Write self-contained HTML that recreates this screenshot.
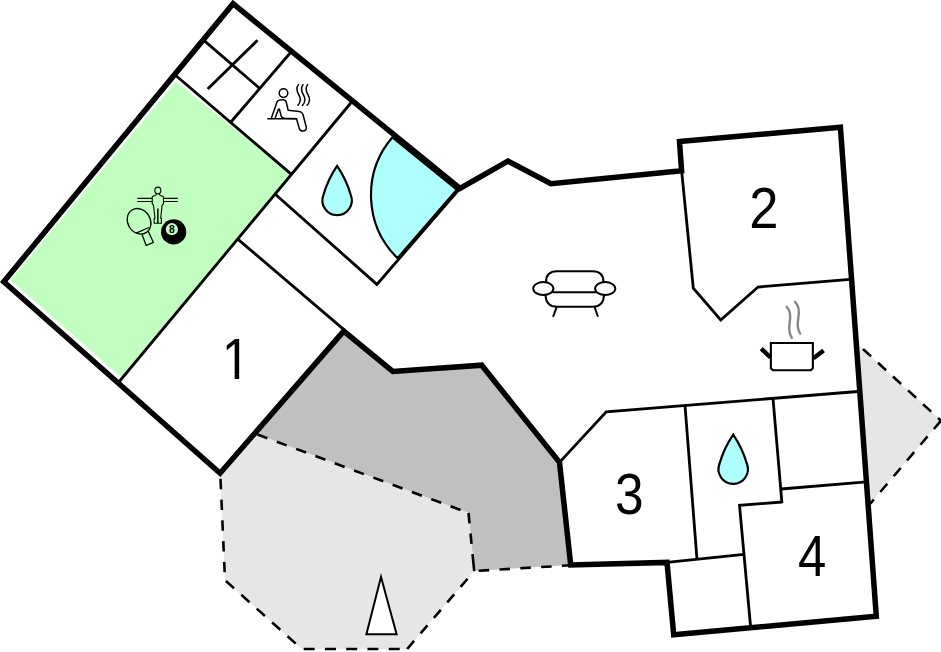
<!DOCTYPE html>
<html>
<head>
<meta charset="utf-8">
<title>Floor plan</title>
<style>
html,body{margin:0;padding:0;background:#fff;}
body{width:941px;height:652px;overflow:hidden;}
svg{display:block;}
text{font-family:"Liberation Sans",Arial,Helvetica,sans-serif;fill:#000;}
.thick{fill:none;stroke:#000;stroke-width:5.5;stroke-linejoin:miter;stroke-miterlimit:10;}
.thin{fill:none;stroke:#000;stroke-width:2.8;stroke-linejoin:miter;stroke-linecap:butt;}
.dash{fill:none;stroke:#000;stroke-width:2.6;}
</style>
</head>
<body>
<svg width="941" height="652" viewBox="0 0 941 652">
<rect width="941" height="652" fill="#fff"/>

<!-- room fills -->
<polygon points="10.5,280.1 176.1,81.6 290.6,174.3 120.8,377.1" fill="#c0ffc0"/>
<polygon points="257.5,434.5 343.7,331.1 392.8,371.4 481.7,365.2 559.5,462.4 570.7,564.9 474.2,571 468.5,513" fill="#c0c0c0"/>
<polygon points="220.1,473.2 257.5,434.5 468.5,513 474.2,571 407.2,649 301.7,649 225,580.2" fill="#e6e6e6"/>
<polygon points="857.5,344 941,420.7 868.5,505" fill="#e6e6e6"/>
<path d="M456.79,189.66 L392.45,137.28 A88.4,88.4 0 0 0 397.52,258.13 Z" fill="#b0ffff" stroke="#000" stroke-width="2.2"/>

<!-- dashed outlines (terrace / covered areas) -->
<g class="dash">
<line x1="257.5" y1="434.5" x2="468.5" y2="513.0" stroke-dasharray="10.6 10"/>
<line x1="468.5" y1="513.0" x2="474.2" y2="571.0" stroke-dasharray="10.4 10.2 10.4 10.2 17 100"/>
<line x1="474.2" y1="571.0" x2="570.7" y2="565.3" stroke-dasharray="10.5 10.35" stroke-dashoffset="16.35"/>
<line x1="220.5" y1="478.8" x2="225" y2="580.2" stroke-dasharray="10.4 10.4"/>
<line x1="225" y1="580.2" x2="301.7" y2="649" stroke-dasharray="11 9.7" stroke-dashoffset="19.5"/>
<line x1="301.7" y1="649" x2="407.2" y2="649" stroke-dasharray="11 10.25" stroke-dashoffset="19.25"/>
<line x1="407.2" y1="649" x2="474.2" y2="571.0" stroke-dasharray="10.6 9.9"/>
<line x1="859" y1="345.3" x2="941" y2="420.7" stroke-dasharray="11 9.4" stroke-dashoffset="15"/>
<line x1="941" y1="420.7" x2="870.3" y2="503.7" stroke-dasharray="10.9 9.8"/>
</g>

<!-- thin interior walls -->
<g class="thin">
<line x1="175.5" y1="75.2" x2="291.2" y2="174.15"/>
<line x1="352" y1="101.5" x2="118.5" y2="382.5"/>
<line x1="291.5" y1="51.5" x2="230.5" y2="122.5"/>
<line x1="203" y1="39.6" x2="259.8" y2="88.5"/>
<line x1="257.5" y1="40.3" x2="207.7" y2="89"/>
<polyline points="275,194 376.9,284.4 460,188.4"/>
<line x1="237.8" y1="239.1" x2="344.5" y2="330.1"/>
<polyline points="681.6,170.7 693.3,288.2 720.75,320 758,287 850,279.3"/>
<polyline points="559.5,462.4 606.25,411.75 858,391.5"/>
<line x1="685" y1="405.4" x2="697" y2="559.5"/>
<line x1="667.0" y1="562.4" x2="744" y2="554.4"/>
<polyline points="750.7,628 739.5,505.3 781.85,502"/>
<line x1="773" y1="398.5" x2="781.95" y2="503.2"/>
<line x1="781" y1="489" x2="866.5" y2="481.8"/>
</g>

<!-- thick outer walls -->
<polygon class="thick" points="220.1,473.2 3.8,281.7 233.05,3.65 460,188.4 507.9,161.1 550.9,183.8 681.6,170.7 679.5,141.4 840.4,127.3 876.3,616.2 673.7,634.7 667,562.4 570.7,564.9 559.5,462.4 481.7,365.2 392.8,371.4 343.7,331.1"/>

<!-- drops -->
<g fill="#b0ffff" stroke="#000" stroke-width="2.2" stroke-linejoin="miter">
<path d="M337.1,165.9 Q346.4,179.6 350.7,194.8 A14.7,14.7 0 1 1 323.5,194.8 Q327.8,179.6 337.1,165.9 Z"/>
<path d="M733.2,434.6 Q742.5,448.3 746.8,463.5 A14.7,14.7 0 1 1 719.6,463.5 Q723.9,448.3 733.2,434.6 Z"/>
</g>

<!-- sofa -->
<g fill="none" stroke="#000" stroke-width="2" stroke-linecap="round">
<path d="M546,282.5 V282 Q546,271.2 557,271.2 H592.5 Q603.5,271.2 603.5,282 V282.5"/>
<ellipse cx="543.3" cy="288.6" rx="10.1" ry="6.5" fill="#fff"/>
<ellipse cx="605.2" cy="288.6" rx="10.1" ry="6.5" fill="#fff"/>
<path d="M553,292.2 H595.5"/>
<path d="M545.5,295.3 Q546,306.8 557,306.8 H592.5 Q603.5,306.8 604,295.3"/>
<path d="M556.5,307.7 L553.3,316.2 M594.8,307.7 L597.7,316"/>
</g>

<!-- sauna -->
<g fill="none" stroke="#000" stroke-width="1.5" stroke-linecap="round" stroke-linejoin="round">
<circle cx="283.5" cy="93.1" r="4.3"/>
<path d="M271.6,117.6 L277.2,101.5 Q278.5,99.6 283.5,99.7 Q286,100 286.5,103 L288.1,110.2 L299.4,111.5 Q302.2,112 303,114.5 L306.3,127.2 Q306.5,131 302.8,131.1 Q300,131 299.3,128.5 L296.5,118.8 L284,118.3 Q281.5,117.8 281,115.5 L279.5,109.5 Q278.9,108.6 278.3,109.5 L275.2,117.7"/>
<path d="M267.8,118.8 H296.5"/>
<path d="M298.4,84.6 C295.9,88 296.4,91 298.9,95 C301.4,99 300.9,102 297.9,105.3"/>
<path d="M303,84.6 C300.5,88 301,91 303.5,95 C306,99 305.5,102 302.5,105.3"/>
<path d="M307.6,84.6 C305.1,88 305.6,91 308.1,95 C310.6,99 310.1,102 307.1,105.3"/>
</g>

<!-- games -->
<g fill="none" stroke="#000" stroke-width="1.3" stroke-linejoin="round">
<ellipse cx="139.06" cy="221.3" rx="11.25" ry="13.3" transform="rotate(-32 139.06 221.3)"/>
<path d="M142,234.4 L146.2,245.5 L153.4,242.4 L147.9,230.6"/>
<path d="M136.16,233.04 L148.93,227.5"/>
</g>
<g fill="none" stroke="#000" stroke-width="1.1" stroke-linejoin="round">
<ellipse cx="157.86" cy="190.5" rx="3" ry="3.35"/>
<path d="M156.2,193.5 L156.2,194.6 Q155.8,195.6 152.7,196.4 Q152.2,196.6 152.2,197.2 L152.2,203.6 L153.5,205.4 L155,218.2 L154.2,218.2 L154.2,223.3 L161.4,223.3 L161.4,218.2 L160.7,218.2 L162.1,205.4 L163.5,203.6 L163.5,197.2 Q163.5,196.6 163,196.4 Q159.9,195.6 159.5,194.6 L159.5,193.5"/>
<path d="M157.86,208.6 V223" stroke-width="1.5"/>
<path d="M137.3,198.33 H152.2 M137.3,201.5 H152.2 M163.5,198.33 H177.9 M163.5,201.5 H177.9"/>
</g>
<circle cx="173.65" cy="231.95" r="12.6" fill="#000"/>
<circle cx="171.85" cy="229.2" r="6.1" fill="#c0ffc0"/>
<text x="171.85" y="233" font-size="10.4" font-weight="bold" text-anchor="middle">8</text>

<!-- pot -->
<g fill="none" stroke="#000">
<path d="M770.85,342.95 H812.85 V368.2 L810.8,370.25 H772.9 L770.85,368.2 Z" stroke-width="2.1" fill="#fff"/>
<path d="M761.2,348.7 L770.6,357.5 M813.4,358.2 L823.6,350.6" stroke-width="4.4"/>
<path d="M786.6,306.8 C791.5,311 790.5,318 789.6,323 C788.7,329 789.3,334 791.8,337.8" stroke="#888" stroke-width="2.4" stroke-linecap="round"/>
<path d="M795,301.8 C800.3,306.5 799.3,313.5 798.2,319 C797.2,325 797.6,330 800.2,333.6" stroke="#888" stroke-width="2.4" stroke-linecap="round"/>
</g>

<!-- north triangle -->
<polygon points="381,577 366.4,634.2 396.6,634.2" fill="#fff" stroke="#000" stroke-width="2"/>

<!-- numbers -->
<clipPath id="one"><polygon points="215,330 250,330 250,374 239.2,374 239.2,385 234.6,385 234.6,374 215,374"/></clipPath>
<g font-size="58" text-anchor="middle">
<g clip-path="url(#one)"><text transform="translate(235.9,379) scale(0.885,1)">1</text></g>
<text transform="translate(763.8,228.1) scale(0.905,1)">2</text>
<text transform="translate(629.2,513.7) scale(0.885,1)">3</text>
<text transform="translate(812,576) scale(0.875,1)">4</text>
</g>

</svg>
</body>
</html>
